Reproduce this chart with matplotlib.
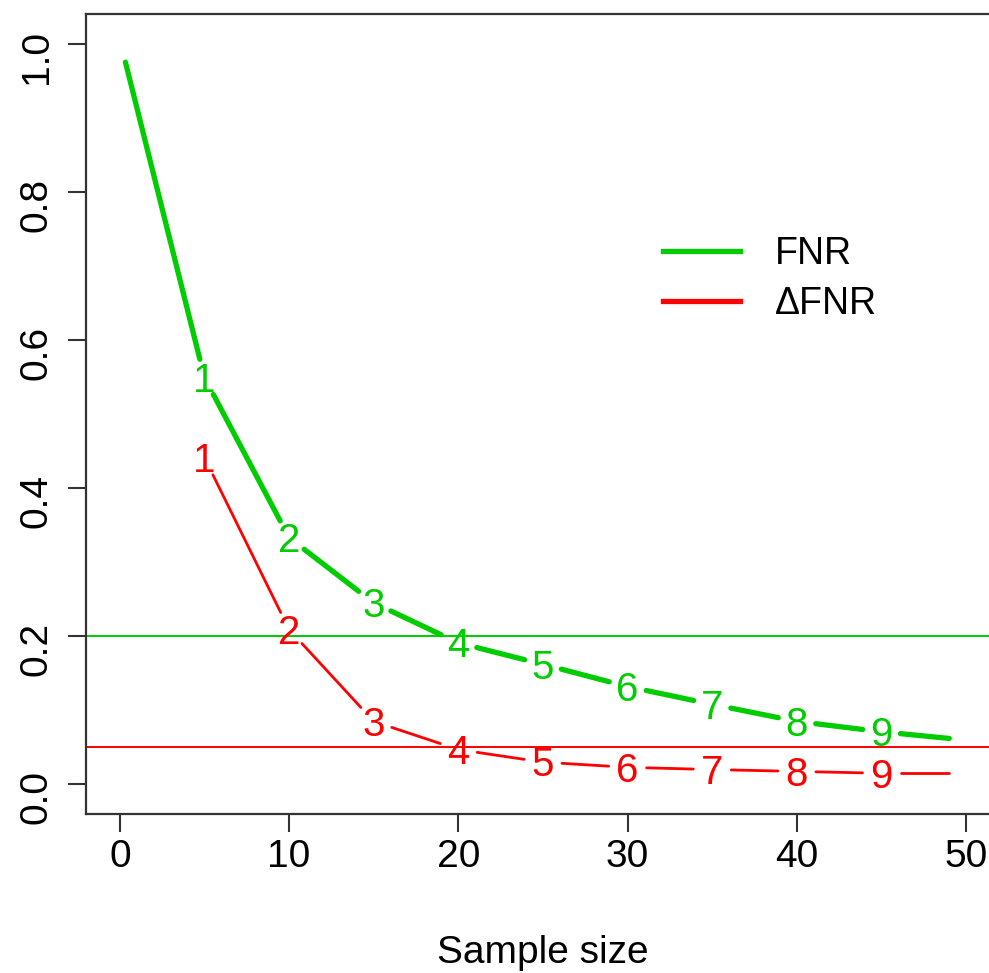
import matplotlib.pyplot as plt
import numpy as np
from matplotlib.lines import Line2D

plt.rcParams['font.family'] = ['Liberation Sans', 'DejaVu Sans']

# sample sizes of the numbered points, plus the free ends of the curves
sizes = [5, 10, 15, 20, 25, 30, 35, 40, 45]
fnr_start = (0.33, 0.975)
fnr_end = (49, 0.062)
dfnr_end = (49, 0.015)

fnr = [0.549, 0.333, 0.245, 0.191, 0.162, 0.132, 0.108, 0.085, 0.071]
dfnr = [0.441, 0.209, 0.085, 0.047, 0.030, 0.023, 0.020, 0.0175, 0.015]

fnr_limit = 0.2
dfnr_limit = 0.05

green = '#00CD00'
red = '#FF0000'
axis_col = '#333333'

W, H = 989, 973
fig = plt.figure(figsize=(W / 100, H / 100), dpi=100)
ax = fig.add_axes([86 / W, (H - 814) / H, (1000 - 86) / W, (814 - 14) / H])
ax.set_xlim(-2, 52)
ax.set_ylim(-0.04, 1.04)


def gapped_line(xs, ys, labelled, color, lw, gap=19):
    # R type="b": line segments stop short of each numbered point
    pts = ax.transData.transform(np.column_stack([xs, ys]))
    inv = ax.transData.inverted()
    for i in range(len(pts) - 1):
        p, q = pts[i], pts[i + 1]
        d = q - p
        n = np.hypot(*d)
        u = d / n
        a = p + u * gap if labelled[i] else p
        b = q - u * gap if labelled[i + 1] else q
        if np.dot(b - a, u) <= 0:
            continue
        seg = inv.transform(np.array([a, b]))
        ax.plot(seg[:, 0], seg[:, 1], color=color, lw=lw,
                solid_capstyle='round')


def number_points(xs, ys, color, fs=29):
    for k, (x, y) in enumerate(zip(xs, ys), start=1):
        ax.annotate(str(k), (x, y), xytext=(0, -0.355 * fs),
                    textcoords='offset points', ha='center', va='baseline',
                    color=color, fontsize=fs)


ax.axhline(fnr_limit, color=green, lw=1.4)
ax.axhline(dfnr_limit, color=red, lw=1.4)

gx = [fnr_start[0]] + sizes + [fnr_end[0]]
gy = [fnr_start[1]] + fnr + [fnr_end[1]]
gapped_line(gx, gy, [False] + [True] * len(sizes) + [False], green, 3.8)
number_points(sizes, fnr, green)

rx = sizes + [dfnr_end[0]]
ry = dfnr + [dfnr_end[1]]
gapped_line(rx, ry, [True] * len(sizes) + [False], red, 2.0)
number_points(sizes, dfnr, red)

handles = [Line2D([], [], color=green, lw=3.8),
           Line2D([], [], color=red, lw=3.8)]
ax.legend(handles, ['FNR', '\u0394FNR'], loc='upper left',
          bbox_to_anchor=(663 / W, (H - 236) / H),
          bbox_transform=fig.transFigure, frameon=False, fontsize=27,
          handlelength=2.05, handletextpad=0.93, labelspacing=0.38,
          borderpad=0, borderaxespad=0)

ax.set_xticks([0, 10, 20, 30, 40, 50])
ax.set_yticks([0, 0.2, 0.4, 0.6, 0.8, 1.0])
ax.set_yticklabels(['0.0', '0.2', '0.4', '0.6', '0.8', '1.0'])
ax.tick_params(axis='both', length=13, width=1.5, color=axis_col,
               labelsize=28, pad=5)
ax.tick_params(axis='y', labelrotation=90, pad=9.5)
for s in ax.spines.values():
    s.set_color(axis_col)
    s.set_linewidth(1.6)
ax.spines['right'].set_visible(False)
ax.set_xlabel('Sample size', fontsize=28, labelpad=43)

fig.savefig('out.png', dpi=100)
